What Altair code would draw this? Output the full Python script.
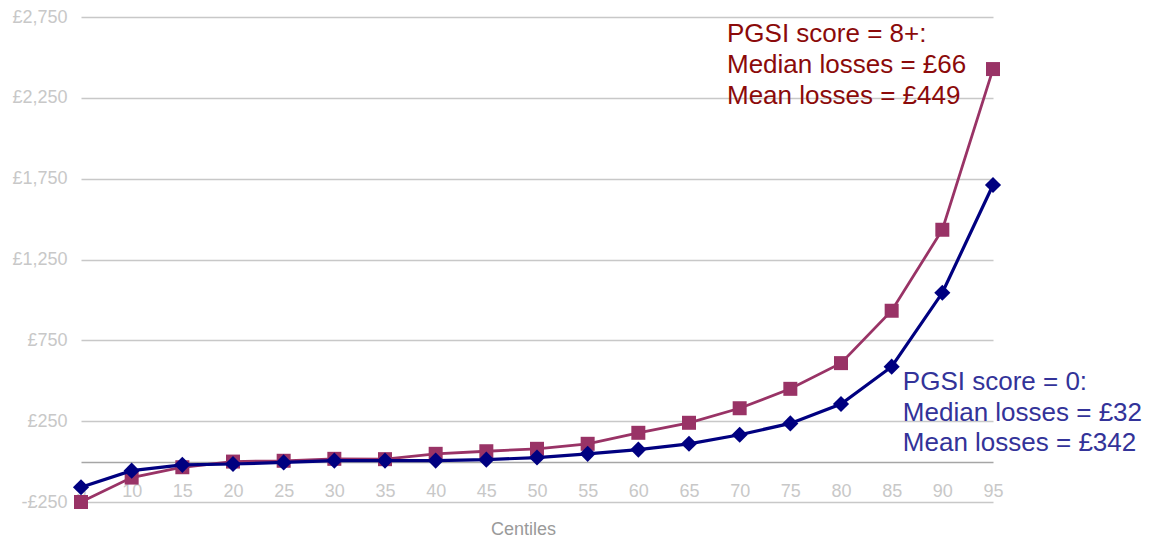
import altair as alt
import pandas as pd

# ---- data ----
centiles = [5, 10, 15, 20, 25, 30, 35, 40, 45, 50, 55, 60, 65, 70, 75, 80, 85, 90, 95]
pgsi_8plus = [-250, -99, -35, 0, 5, 17, 15, 48, 64, 79, 110, 178, 240, 330, 450, 609, 933, 1434, 2428]
pgsi_0 = [-159, -56, -20, -15, -5, 6, 6, 6, 12, 25, 48, 74, 110, 166, 236, 356, 587, 1044, 1711]

y_ticks = [-250, 250, 750, 1250, 1750, 2250, 2750]
x_ticks = centiles

label_8 = ["PGSI score = 8+:", "Median losses = £66", "Mean losses = £449"]
label_8_x = [68.75, 68.75, 68.75]
label_8_y = [2646, 2455, 2264]
label_0 = ["PGSI score = 0:", "Median losses = £32", "Mean losses = £342"]
label_0_x = [86.1, 86.1, 86.1]
label_0_y = [490, 299, 112]

FONT = "Liberation Sans"
PINK = "#993366"
NAVY = "#000080"

df8 = pd.DataFrame({"centile": centiles, "loss": pgsi_8plus})
df0 = pd.DataFrame({"centile": centiles, "loss": pgsi_0})
ann8 = pd.DataFrame({"centile": label_8_x, "loss": label_8_y, "label": label_8})
ann0 = pd.DataFrame({"centile": label_0_x, "loss": label_0_y, "label": label_0})

x_enc = alt.X(
    "centile:Q",
    scale=alt.Scale(domain=[5, 95], nice=False, zero=False),
    axis=alt.Axis(
        values=x_ticks,
        title="Centiles",
        grid=False,
        ticks=False,
        tickSize=0,
        domain=True,
        domainColor="#A6A6A6",
        domainWidth=1.5,
        offset=-40,
        labelPadding=20,
        labelFlush=False,
        labelOverlap=False,
        labelColor="#C8C8C8",
        labelFont=FONT,
        labelFontSize=18,
        titleFont=FONT,
        titleFontSize=18,
        titleFontWeight="normal",
        titleColor="#9A9A9A",
        titlePadding=20,
        titleX=442,
    ),
)
y_enc = alt.Y(
    "loss:Q",
    scale=alt.Scale(domain=[-250, 2750], nice=False, zero=False),
    axis=alt.Axis(
        values=y_ticks,
        title=None,
        grid=True,
        gridColor="#C8C8C8",
        gridWidth=1.5,
        domain=False,
        ticks=False,
        labelPadding=14,
        labelColor="#C8C8C8",
        labelFont=FONT,
        labelFontSize=18,
        labelExpr="(datum.value < 0 ? '-' : '') + '£' + format(abs(datum.value), ',')",
    ),
)

line8 = alt.Chart(df8).mark_line(color=PINK, strokeWidth=2.8).encode(x=x_enc, y=y_enc)
pts8 = alt.Chart(df8).mark_point(shape="square", filled=True, size=196, color=PINK, opacity=1).encode(
    x="centile:Q", y="loss:Q"
)
line0 = alt.Chart(df0).mark_line(color=NAVY, strokeWidth=3.2).encode(x="centile:Q", y="loss:Q")
pts0 = alt.Chart(df0).mark_point(shape="diamond", filled=True, size=260, color=NAVY, opacity=1).encode(
    x="centile:Q", y="loss:Q"
)

txt8 = alt.Chart(ann8).mark_text(
    align="left", baseline="middle", font=FONT, fontSize=26, color="#8B0A0A"
).encode(x="centile:Q", y="loss:Q", text="label:N")
txt0 = alt.Chart(ann0).mark_text(
    align="left", baseline="middle", font=FONT, fontSize=26, color="#333399"
).encode(x="centile:Q", y="loss:Q", text="label:N")

chart = (
    alt.layer(line8, pts8, line0, pts0, txt8, txt0)
    .properties(
        width=912,
        height=485,
        autosize=alt.AutoSizeParams(type="none"),
        padding={"left": 73, "top": 9, "right": 160, "bottom": 37},
        background="white",
    )
    .configure_view(stroke=None)
)

chart.save("out.html", embed_options={"renderer": "svg", "actions": False})
